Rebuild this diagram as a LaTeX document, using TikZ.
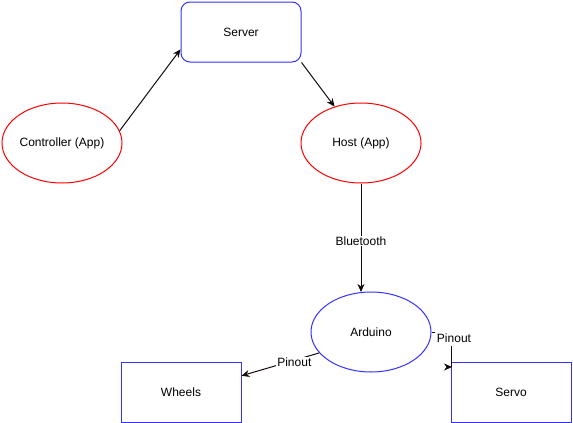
\documentclass[tikz,border=0pt]{standalone}
\usepackage{fontspec}
\setmainfont{Liberation Sans}
\usetikzlibrary{shapes.geometric,arrows.meta}
\definecolor{myblue}{RGB}{51,51,255}
\definecolor{myred}{RGB}{255,0,0}
\definecolor{myline}{RGB}{20,10,10}
\begin{document}
\begin{tikzpicture}[x=1pt,y=-1pt,
  every node/.style={font=\fontsize{12}{14}\selectfont},
  oval/.style={ellipse,draw,line width=1pt,minimum width=120pt,minimum height=80pt,inner sep=0pt},
  boxnode/.style={rectangle,draw=myblue,line width=1pt,minimum width=120pt,minimum height=60pt,inner sep=0pt},
  conn/.style={draw=myline,line width=1pt,-{Stealth[length=8pt,width=7pt,inset=2.5pt]}},
  lbl/.style={fill=white,inner sep=1pt}]
\useasboundingbox (0,0) rectangle (573,423);
\node[boxnode,rounded corners=9pt] (srv) at (241,32) {Server};
\node[oval,draw=myred] (ctrl) at (62,143) {Controller (App)};
\node[oval,draw=myred] (host) at (361,143) {Host (App)};
\node[oval,draw=myblue] (ard) at (371,332) {Arduino};
\node[boxnode] (wheels) at (181,392) {Wheels};
\node[boxnode] (servo) at (511,392) {Servo};
\coordinate (sbend) at (451,332);
\coordinate (sin) at (452,367);
\coordinate (btend) at (361,292);
\draw[conn] (ctrl.12) -- (srv.196);
\draw[conn] (srv.south east) -- (host.126);
\draw[conn] (host.south) -- node[lbl,pos=0.53] {Bluetooth} (btend);
\draw[conn] (ard.202) -- node[lbl,pos=0.32,yshift=-2pt] {Pinout} (wheels.15);
\draw[draw=myline,line width=1pt] (ard.east) -- (sbend) -- (451,367);
\draw[conn] (448,367) -- (sin);
\node[lbl,inner xsep=2pt,inner ysep=4pt] (plbl) at (454,338) {Pinout};
\end{tikzpicture}
\end{document}
